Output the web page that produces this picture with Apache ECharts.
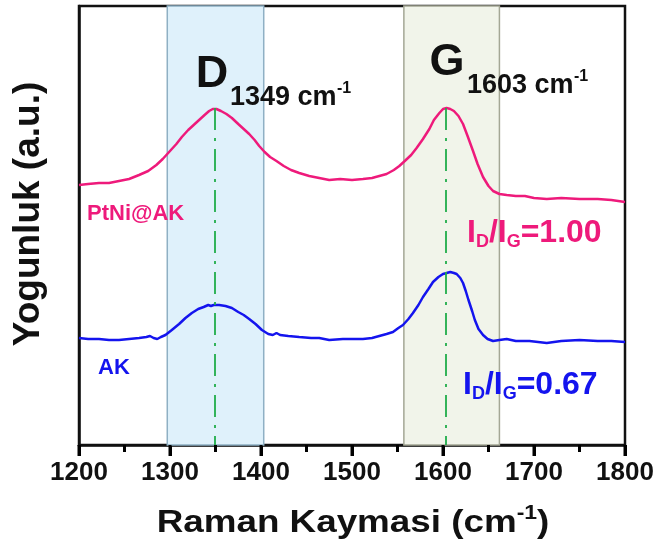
<!DOCTYPE html>
<html>
<head>
<meta charset="utf-8">
<script src="https://cdn.jsdelivr.net/npm/echarts@6/dist/echarts.min.js"></script>
<style>html,body{margin:0;padding:0;background:#fff}#c{width:659px;height:556px}</style>
</head>
<body>
<div id="c"></div>
<script>
// ---- data (Raman shift in cm-1, intensity in arbitrary units) ----
var xPtNi = [1200,1210,1222,1233,1244,1255,1266,1276,1285,1292,1300,1307,1313,1320,1326,1332,1338,1343,1347,1351,1356,1362,1368,1375,1381,1387,1393,1398,1404,1410,1417,1425,1433,1442,1453,1464,1475,1487,1500,1512,1522,1530,1538,1546,1552,1558,1565,1571,1578,1585,1590,1596,1600,1604,1608,1612,1617,1622,1627,1633,1638,1644,1650,1655,1662,1670,1680,1690,1700,1714,1730,1750,1770,1785,1800];
var yPtNi = [260,261,262,262,264,266,270,274,280,286,294,301,308,315,320,325,330,334,336,336,334,331,327,321,316,311,305,299,293,288,284,279,275,272,269,267,265,266,265,266,267,269,271,275,279,284,290,297,306,316,325,332,336,337,336,334,329,321,309,294,281,268,259,254,251,250,249,249,247,246,247,246,246,245,243];
var xAK = [1200,1210,1222,1233,1244,1255,1266,1274,1278,1282,1286,1290,1295,1302,1310,1317,1324,1331,1337,1342,1345,1348,1354,1361,1368,1375,1381,1387,1394,1401,1408,1413,1417,1421,1430,1442,1455,1464,1475,1490,1500,1512,1522,1530,1538,1545,1551,1556,1562,1567,1573,1578,1584,1589,1595,1600,1604,1608,1612,1615,1619,1622,1625,1628,1632,1635,1639,1644,1649,1655,1662,1670,1680,1695,1714,1730,1750,1770,1785,1800];
var yAK = [107,106,106,105,105,106,107,108,109,107,106,108,110,115,121,127,132,136,138,140,139,140,140,139,137,133,130,126,121,115,111,110,112,110,109,108,107,107,105,106,106,106,107,109,111,113,117,120,126,132,140,148,156,163,168,171,172,173,172,171,167,162,154,145,134,125,116,110,106,104,105,106,104,104,102,104,105,104,104,103];
var bandD = [1297, 1403];
var bandG = [1557, 1662];
var peakD = 1349, peakG = 1603, peakTop = 337;
var xTicks = [1200, 1300, 1400, 1500, 1600, 1700, 1800];
var xMinorTicks = [1250, 1350, 1450, 1550, 1650, 1750];

var FONT = 'Liberation Sans, Arial, sans-serif';
var PINK = '#ee1a7b', BLUE = '#1414ee', GREEN = '#20ad4a';

function pairs(xs, ys){ return xs.map(function(x,i){ return [x, ys[i]]; }); }
function tickSeries(vals, len){
  return {
    type: 'custom', silent: true, clip: false, z: 10,
    data: vals.map(function(v){ return [v, 0]; }),
    renderItem: function(params, api){
      var p = api.coord([api.value(0), 0]);
      return {type: 'line', shape: {x1: p[0], y1: p[1], x2: p[0], y2: p[1] + len},
              style: {stroke: '#000', lineWidth: 3}};
    }
  };
}

var chart = echarts.init(document.getElementById('c'), null, {renderer:'canvas'});
var option = {
  animation: false,
  backgroundColor: '#fff',
  grid: {left: 79, right: 34, top: 6, bottom: 111, show: true, borderColor: '#111', borderWidth: 2.5, backgroundColor: 'transparent'},
  xAxis: {
    type: 'value', min: xTicks[0], max: xTicks[xTicks.length-1], interval: 100,
    axisLine: {show: true, onZero: false, lineStyle: {color: '#111', width: 2.5}},
    axisTick: {show: true, length: 11, lineStyle: {color: '#000', width: 3}},
    splitLine: {show: false},
    axisLabel: {color: '#111', fontSize: 26, fontWeight: 'bold', fontFamily: FONT, margin: 15,
                formatter: function(v){ return String(v); }}
  },
  yAxis: {
    type: 'value', min: 0, max: 439,
    axisLine: {show: true, lineStyle: {color: '#111', width: 2.5}},
    axisTick: {show: false}, axisLabel: {show: false}, splitLine: {show: false}
  },
  series: [
    {
      type: 'line', data: [], silent: true, z: 1,
      markArea: {
        silent: true,
        data: [
          [{xAxis: bandD[0], itemStyle: {color: '#dff1fb', borderColor: '#8fb0c4', borderWidth: 1.5}}, {xAxis: bandD[1]}],
          [{xAxis: bandG[0], itemStyle: {color: '#f1f4ea', borderColor: '#a4a795', borderWidth: 1.5}}, {xAxis: bandG[1]}]
        ]
      }
    },
    {
      name: 'PtNi@AK', type: 'line', data: pairs(xPtNi, yPtNi), showSymbol: false, symbol: 'none', z: 3,
      lineStyle: {color: PINK, width: 2.5}, silent: true
    },
    {
      name: 'AK', type: 'line', data: pairs(xAK, yAK), showSymbol: false, symbol: 'none', z: 3,
      lineStyle: {color: BLUE, width: 2.5}, silent: true,
      markLine: {
        silent: true, symbol: ['none','none'], label: {show: false},
        lineStyle: {color: GREEN, width: 1.8, type: [22, 8, 3, 8]},
        data: [
          [{coord: [peakD, peakTop]}, {coord: [peakD, 0]}],
          [{coord: [peakG, peakTop]}, {coord: [peakG, 0]}]
        ]
      }
    },
    tickSeries(xTicks, 11),
    tickSeries(xMinorTicks, 7)
  ],
  graphic: {elements: [
    {type: 'text', z: 100, x: 29, y: 214, rotation: Math.PI/2, style: {text: 'Yogunluk (a.u.)', fill: '#111', font: 'bold 37px ' + FONT, align: 'center', verticalAlign: 'middle'}},
    {type: 'text', z: 100, x: 353, y: 523, scaleX: 1.15, style: {
      text: '{m|Raman Kaymasi (cm}{s|-1}{m|)}', align: 'center', verticalAlign: 'middle',
      rich: {m: {fontSize: 32, fontWeight: 'bold', fontFamily: FONT, fill: '#111', lineHeight: 40},
             s: {fontSize: 20, fontWeight: 'bold', fontFamily: FONT, fill: '#111', lineHeight: 12, verticalAlign: 'top'}}}},
    {type: 'text', z: 100, x: 212, y: 75, style: {text: 'D', fill: '#111', font: 'bold 45px ' + FONT, align: 'center', verticalAlign: 'middle'}},
    {type: 'text', z: 100, x: 230, y: 98, style: {text: '1349 cm', fill: '#111', font: 'bold 27px ' + FONT, align: 'left', verticalAlign: 'middle'}},
    {type: 'text', z: 100, x: 337, y: 89, style: {text: '-1', fill: '#111', font: 'bold 16px ' + FONT, align: 'left', verticalAlign: 'middle'}},
    {type: 'text', z: 100, x: 447, y: 63, style: {text: 'G', fill: '#111', font: 'bold 45px ' + FONT, align: 'center', verticalAlign: 'middle'}},
    {type: 'text', z: 100, x: 467, y: 86, style: {text: '1603 cm', fill: '#111', font: 'bold 27px ' + FONT, align: 'left', verticalAlign: 'middle'}},
    {type: 'text', z: 100, x: 574, y: 77, style: {text: '-1', fill: '#111', font: 'bold 16px ' + FONT, align: 'left', verticalAlign: 'middle'}},
    {type: 'text', z: 100, x: 87, y: 214, style: {text: 'PtNi@AK', fill: PINK, font: 'bold 22px ' + FONT, align: 'left', verticalAlign: 'middle'}},
    {type: 'text', z: 100, x: 98, y: 368, style: {text: 'AK', fill: BLUE, font: 'bold 22px ' + FONT, align: 'left', verticalAlign: 'middle'}},
    {type: 'text', z: 100, x: 467, y: 233, style: {
      text: '{m|I}{s|D}{m|/I}{s|G}{m|=1.00}', align: 'left', verticalAlign: 'middle',
      rich: {m: {fontSize: 32, fontWeight: 'bold', fontFamily: FONT, fill: PINK, lineHeight: 36},
             s: {fontSize: 18, fontWeight: 'bold', fontFamily: FONT, fill: PINK, lineHeight: 18, verticalAlign: 'bottom'}}}},
    {type: 'text', z: 100, x: 463, y: 385, style: {
      text: '{m|I}{s|D}{m|/I}{s|G}{m|=0.67}', align: 'left', verticalAlign: 'middle',
      rich: {m: {fontSize: 32, fontWeight: 'bold', fontFamily: FONT, fill: BLUE, lineHeight: 36},
             s: {fontSize: 18, fontWeight: 'bold', fontFamily: FONT, fill: BLUE, lineHeight: 18, verticalAlign: 'bottom'}}}}
  ]}
};
chart.setOption(option);
</script>
</body>
</html>
